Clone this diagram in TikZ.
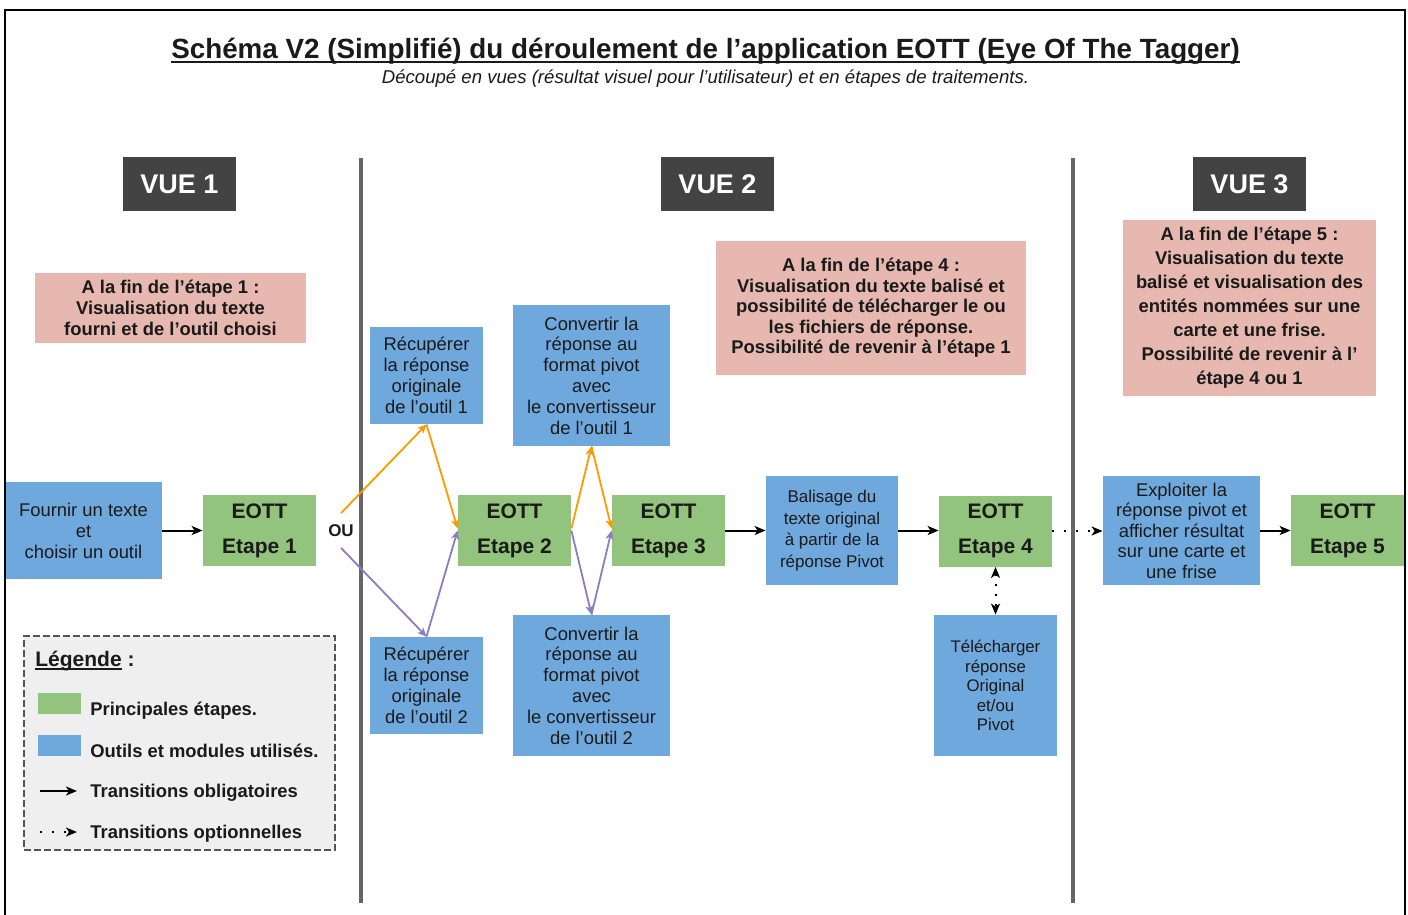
\documentclass[tikz,border=0pt]{standalone}
\usepackage{fontspec}
\setmainfont{Liberation Sans}
\usetikzlibrary{arrows.meta}

\definecolor{toolblue}{HTML}{6FA8DC}
\definecolor{stagegreen}{HTML}{93C47D}
\definecolor{notepink}{HTML}{E6B8AF}
\definecolor{viewgray}{HTML}{434343}
\definecolor{pathorange}{HTML}{FF9900}
\definecolor{pathpurple}{HTML}{8E7CC3}
\definecolor{legendfill}{HTML}{EFEFEF}
\definecolor{legendborder}{HTML}{555555}
\definecolor{sepgray}{HTML}{666666}
\definecolor{inktext}{HTML}{1A1A1A}

% underline at a fixed depth below the baseline: #1 depth, #2 thickness, #3 text
\newsavebox\ulinebox
\newcommand{\ulinetext}[3]{\leavevmode\sbox\ulinebox{#3}\rlap{\rule[-#1]{\wd\ulinebox}{#2}}\usebox\ulinebox}

\tikzset{
  plain/.style={inner sep=0pt, align=center, text=inktext},
  tool/.style={plain, fill=toolblue, font=\fontsize{9.2}{10.5}\selectfont},
  stage/.style={plain, fill=stagegreen, minimum width=56.5pt, minimum height=35.5pt,
                font=\bfseries\fontsize{10.5}{17.5}\selectfont},
  note/.style={plain, fill=notepink, font=\bfseries\fontsize{9.2}{10.5}\selectfont},
  view/.style={plain, fill=viewgray, text=white, minimum width=56.5pt, minimum height=27pt,
               font=\bfseries\fontsize{13.5}{16}\selectfont},
  legtext/.style={plain, anchor=west, font=\bfseries\fontsize{9.2}{11}\selectfont},
  flow/.style={-{Stealth[length=5.5pt,width=4.5pt,inset=1.5pt]}, line width=1pt, black},
  opt/.style={flow, dash pattern=on 1pt off 5pt},
  optboth/.style={{Stealth[length=5.5pt,width=4.5pt,inset=1.5pt]}-{Stealth[length=5.5pt,width=4.5pt,inset=1.5pt]},
                  line width=1pt, black, dash pattern=on 1pt off 4pt},
  choice/.style={-{Stealth[length=4.5pt,width=4pt,inset=1.2pt]}, line width=0.9pt},
  separator/.style={line width=2pt, sepgray},
}

\begin{document}
\begin{tikzpicture}[x=0.5pt, y=-0.5pt]
\useasboundingbox (0,0) rectangle (1408,915);

% titles
\node[plain, anchor=base, font=\bfseries\fontsize{13.9}{16}\selectfont] (title) at (705.5,59)
  {\ulinetext{2.2pt}{1.1pt}{Schéma V2 (Simplifié) du déroulement de l’application EOTT (Eye Of The Tagger)}};
\node[plain, anchor=base, font=\itshape\fontsize{9.3}{11}\selectfont] (subtitle) at (705.5,84)
  {Découpé en vues (résultat visuel pour l’utilisateur) et en étapes de traitements.};

% view separators
\draw[separator] (361,158) -- (361,903);
\draw[separator] (1073,158) -- (1073,903);

% view headers
\node[view] (vue1) at (179.5,184) {VUE 1};
\node[view] (vue2) at (717.5,184) {VUE 2};
\node[view] (vue3) at (1249.5,184) {VUE 3};

% end-of-step notes
\node[note, minimum width=135.5pt, minimum height=35pt] (note1) at (170.5,308)
  {A la fin de l’étape 1 :\\Visualisation du texte\\fourni et de l’outil choisi};
\node[note, minimum width=155pt, minimum height=67pt, font=\bfseries\fontsize{9.2}{10.25}\selectfont] (note4) at (871,308)
  {A la fin de l’étape 4 :\\Visualisation du texte balisé et\\possibilité de télécharger le ou\\les fichiers de réponse.\\Possibilité de revenir à l’étape 1};
\node[note, minimum width=126.5pt, minimum height=88pt, font=\bfseries\fontsize{9.2}{12}\selectfont] (note5) at (1249.5,308)
  {A la fin de l’étape 5 :\\Visualisation du texte\\balisé et visualisation des\\entités nommées sur une\\carte et une frise.\\Possibilité de revenir à l’\\étape 4 ou 1};

% tools and modules
\node[tool, minimum width=78.5pt, minimum height=48.5pt] (fournir) at (83.5,530.5)
  {Fournir un texte\\et\\choisir un outil};
\node[tool, minimum width=56.5pt, minimum height=48.5pt] (recup1) at (426.5,375.5)
  {Récupérer\\la réponse\\originale\\de l’outil 1};
\node[tool, minimum width=56.5pt, minimum height=48.5pt] (recup2) at (426.5,685.5)
  {Récupérer\\la réponse\\originale\\de l’outil 2};
\node[tool, minimum width=78.5pt, minimum height=70.5pt, font=\fontsize{9.2}{10.4}\selectfont] (conv1) at (591.5,375.5)
  {Convertir la\\réponse au\\format pivot\\avec\\le convertisseur\\de l’outil 1};
\node[tool, minimum width=78.5pt, minimum height=70.5pt, font=\fontsize{9.2}{10.4}\selectfont] (conv2) at (591.5,685.5)
  {Convertir la\\réponse au\\format pivot\\avec\\le convertisseur\\de l’outil 2};
\node[tool, minimum width=66pt, minimum height=54.5pt, font=\fontsize{8.5}{10.8}\selectfont] (balisage) at (832,530.5)
  {Balisage du\\texte original\\à partir de la\\réponse Pivot};
\node[tool, minimum width=61.5pt, minimum height=70.5pt, font=\fontsize{8.4}{9.75}\selectfont] (telecharger) at (995.5,685.5)
  {Télécharger\\réponse\\Original\\et/ou\\Pivot};
\node[tool, minimum width=78.5pt, minimum height=54.5pt, font=\fontsize{9.2}{10.25}\selectfont] (exploiter) at (1181.5,530.5)
  {Exploiter la\\réponse pivot et\\afficher résultat\\sur une carte et\\une frise};

% main steps
\node[stage] (e1) at (259.5,530.5) {EOTT\\Etape 1};
\node[stage] (e2) at (514.5,530.5) {EOTT\\Etape 2};
\node[stage] (e3) at (668.5,530.5) {EOTT\\Etape 3};
\node[stage] (e4) at (995.5,531) {EOTT\\Etape 4};
\node[stage] (e5) at (1347.5,530.5) {EOTT\\Etape 5};

\node[plain, minimum height=17pt, font=\bfseries\fontsize{8.5}{10}\selectfont] (ou) at (341,530.5) {OU};

% mandatory transitions
\draw[flow] (fournir.east) -- (e1.west);
\draw[flow] (e3.east) -- (balisage.west |- e3.east);
\draw[flow] (balisage.east) -- (e4.west |- balisage.east);
\draw[flow] (exploiter.east) -- (e5.west);

% optional transitions
\draw[opt] (e4.east) -- (exploiter.west |- e4.east);
\draw[optboth] (e4.south) -- (telecharger.north);

% tool 1 path
\draw[choice, pathorange] (ou.north) -- (recup1.south);
\draw[choice, pathorange] (recup1.south) -- ([yshift=1pt]e2.west);
\draw[choice, pathorange] ([yshift=1pt]e2.east) -- (conv1.south);
\draw[choice, pathorange] (conv1.south) -- ([yshift=1pt]e3.west);

% tool 2 path
\draw[choice, pathpurple] (ou.south) -- (recup2.north);
\draw[choice, pathpurple] (recup2.north) -- (e2.west);
\draw[choice, pathpurple] (e2.east) -- (conv2.north);
\draw[choice, pathpurple] (conv2.north) -- (e3.west);

% legend
\node[draw=legendborder, line width=0.7pt, dash pattern=on 3.5pt off 1.5pt, fill=legendfill,
      minimum width=155.5pt, minimum height=107pt, inner sep=0pt] (legend) at (179.5,743) {};
\node[plain, anchor=west, font=\bfseries\fontsize{10.5}{12}\selectfont] (legtitle) at (35,661)
  {\ulinetext{1.7pt}{0.8pt}{Légende} :};
\node[fill=stagegreen, minimum width=21.5pt, minimum height=10.5pt, inner sep=0pt] (swgreen) at (59.5,703.5) {};
\node[fill=toolblue, minimum width=21.5pt, minimum height=10.5pt, inner sep=0pt] (swblue) at (59.5,745.5) {};
\node[legtext] (lg1) at (90,710.5) {Principales étapes.};
\node[legtext] (lg2) at (90,751) {Outils et modules utilisés.};
\node[legtext] (lg3) at (90,792.5) {Transitions obligatoires};
\node[legtext] (lg4) at (90,833.5) {Transitions optionnelles};
\coordinate (la1) at (40,791);
\coordinate (la2) at (77,791);
\coordinate (lb1) at (40,832);
\coordinate (lb2) at (77,832);
\draw[flow] (la1) -- (la2);
\draw[opt] (lb1) -- (lb2);

% outer frame
\draw[line width=1pt, black] (5,920) -- (5,10) -- (1405,10) -- (1405,920);
\end{tikzpicture}
\end{document}
